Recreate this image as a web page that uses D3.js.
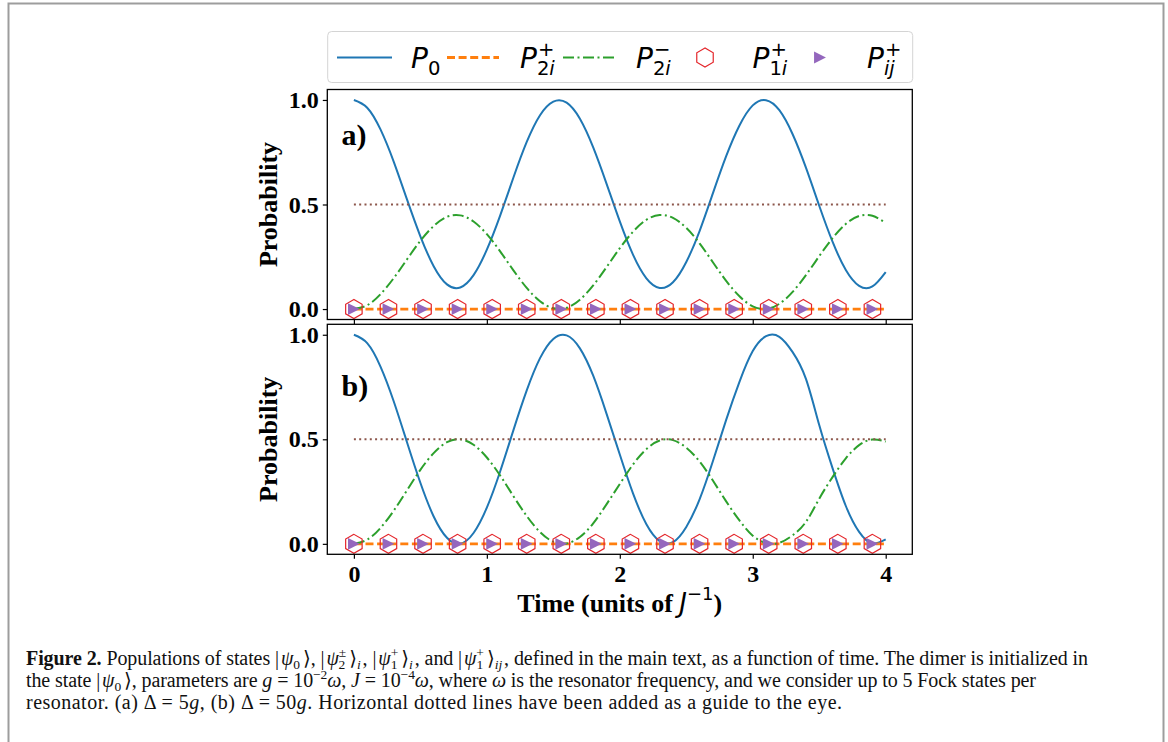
<!DOCTYPE html>
<html>
<head>
<meta charset="utf-8">
<script src="https://cdn.jsdelivr.net/npm/d3@7"></script>
<style>
  body { margin: 0; background: #fff; }
</style>
</head>
<body>
<div id="chart"></div>
<script>
// ---- data ----
// time grid, units of 1/J
var timeGrid = [0.0, 0.1, 0.2, 0.3, 0.4, 0.5, 0.6, 0.7, 0.8, 0.9,
                1.0, 1.1, 1.2, 1.3, 1.4, 1.5, 1.6, 1.7, 1.8, 1.9,
                2.0, 2.1, 2.2, 2.3, 2.4, 2.5, 2.6, 2.7, 2.8, 2.9,
                3.0, 3.1, 3.2, 3.3, 3.4, 3.5, 3.6, 3.7, 3.8, 3.9, 4.0];

// panel a) Delta = 5g
var p0A = [1.000, 0.963, 0.859, 0.704, 0.523, 0.348, 0.205, 0.118, 0.103, 0.162,
           0.284, 0.447, 0.629, 0.799, 0.927, 0.992, 0.987, 0.910, 0.773, 0.600,
           0.419, 0.259, 0.147, 0.101, 0.128, 0.225, 0.373, 0.553, 0.731, 0.878,
           0.974, 0.999, 0.951, 0.836, 0.676, 0.494, 0.322, 0.187, 0.111, 0.108, 0.177];
var p2MinusA = [0.000, 0.018, 0.071, 0.148, 0.238, 0.326, 0.397, 0.441, 0.448, 0.419,
                0.358, 0.276, 0.185, 0.101, 0.037, 0.004, 0.006, 0.045, 0.113, 0.200,
                0.291, 0.370, 0.427, 0.450, 0.436, 0.388, 0.314, 0.224, 0.135, 0.061,
                0.013, 0.000, 0.025, 0.082, 0.162, 0.253, 0.339, 0.407, 0.445, 0.446, 0.412];

// panel b) Delta = 50g
var p0B = [1.000, 0.960, 0.848, 0.681, 0.485, 0.292, 0.131, 0.029, 0.001, 0.052,
           0.173, 0.346, 0.544, 0.734, 0.888, 0.980, 0.997, 0.935, 0.804, 0.623,
           0.427, 0.240, 0.094, 0.013, 0.008, 0.081, 0.213, 0.395, 0.593, 0.775,
           0.922, 0.993, 0.990, 0.917, 0.789, 0.568, 0.362, 0.181, 0.057, 0.002, 0.021];
var p2MinusB = [0.000, 0.020, 0.076, 0.159, 0.257, 0.354, 0.434, 0.486, 0.500, 0.474,
                0.413, 0.327, 0.228, 0.133, 0.056, 0.010, 0.002, 0.033, 0.098, 0.189,
                0.286, 0.380, 0.453, 0.494, 0.496, 0.460, 0.394, 0.303, 0.203, 0.112,
                0.039, 0.004, 0.005, 0.041, 0.105, 0.216, 0.319, 0.409, 0.472, 0.499, 0.489];

// P2i+ sits on zero, and the dotted guide at one half
var flatTimes = [0, 4];
var p2PlusA = [0, 0];
var p2PlusB = [0, 0];
var guideA = [0.5, 0.5];
var guideB = [0.5, 0.5];

// marker series (P1i+ hexagons, Pij+ triangles)
var markerTimes = [0, 0.26, 0.52, 0.78, 1.04, 1.30, 1.56, 1.82,
                   2.08, 2.34, 2.60, 2.86, 3.12, 3.38, 3.64, 3.90];
var p1PlusA = [0, 0, 0, 0, 0, 0, 0, 0, 0, 0, 0, 0, 0, 0, 0, 0];
var pijPlusA = [0, 0, 0, 0, 0, 0, 0, 0, 0, 0, 0, 0, 0, 0, 0, 0];
var p1PlusB = [0, 0, 0, 0, 0, 0, 0, 0, 0, 0, 0, 0, 0, 0, 0, 0];
var pijPlusB = [0, 0, 0, 0, 0, 0, 0, 0, 0, 0, 0, 0, 0, 0, 0, 0];

var xTicks = [0, 1, 2, 3, 4];
var yTicks = [0, 0.5, 1.0];
var panelLabels = ["a)", "b)"];

// ---- layout ----
var W = 1168, H = 742;
var plotLeft = 327.3, plotRight = 912.3;
var panelTops = [89.5, 324.3], panelHeight = 230;
var tagBaselines = [55, 72];
var serif = "'Liberation Serif', 'Times New Roman', serif";
var sans = "'DejaVu Sans', sans-serif";

var colors = {p0: "#1f77b4", p2p: "#ff7f0e", p2m: "#2ca02c", hex: "#e4262b", tri: "#9467bd", guide: "#8c564b"};

var svg = d3.select("#chart").append("svg")
    .attr("width", W)
    .attr("height", H);

// outer frame of the figure box
svg.append("rect")
    .attr("x", 8.5).attr("y", 3.5)
    .attr("width", 1155).attr("height", 800)
    .attr("fill", "none").attr("stroke", "#9d9d9d").attr("stroke-width", 2);

var x = d3.scaleLinear().domain([-0.2, 4.2]).range([plotLeft, plotRight]);

// custom marker shapes
var hexagon = {
    draw: function(ctx, size) {
        var r = Math.sqrt(size / (1.5 * Math.sqrt(3)));
        for (var k = 0; k < 6; k++) {
            var a = Math.PI / 2 + k * Math.PI / 3;
            if (k) ctx.lineTo(r * Math.cos(a), -r * Math.sin(a));
            else ctx.moveTo(r * Math.cos(a), -r * Math.sin(a));
        }
        ctx.closePath();
    }
};
var triRight = {
    draw: function(ctx, size) {
        var r = Math.sqrt(size) / 2;
        ctx.moveTo(r, 0);
        ctx.lineTo(-r, -r);
        ctx.lineTo(-r, r);
        ctx.closePath();
    }
};
var hexPath = d3.symbol().type(hexagon).size(235)();
var triPath = d3.symbol().type(triRight).size(140)();

var panels = [
    {p0: p0A, p2m: p2MinusA, p2p: p2PlusA, p1: p1PlusA, pij: pijPlusA, guide: guideA},
    {p0: p0B, p2m: p2MinusB, p2p: p2PlusB, p1: p1PlusB, pij: pijPlusB, guide: guideB}
];

panels.forEach(function(p, k) {
    var top = panelTops[k];
    var y = d3.scaleLinear().domain([-0.05, 1.05]).range([top + panelHeight, top]);
    var g = svg.append("g");

    var line = d3.line()
        .x(function(d) { return x(d[0]); })
        .y(function(d) { return y(d[1]); })
        .curve(d3.curveNatural);
    var straight = d3.line()
        .x(function(d) { return x(d[0]); })
        .y(function(d) { return y(d[1]); });

    // P0
    g.append("path")
        .datum(d3.zip(timeGrid, p.p0))
        .attr("d", line)
        .attr("fill", "none").attr("stroke", colors.p0).attr("stroke-width", 2);

    // P2i+
    g.append("path")
        .datum(d3.zip(flatTimes, p.p2p))
        .attr("d", straight)
        .attr("fill", "none").attr("stroke", colors.p2p).attr("stroke-width", 2.8)
        .attr("stroke-dasharray", "8,3.6");

    // P2i-
    g.append("path")
        .datum(d3.zip(timeGrid, p.p2m))
        .attr("d", line)
        .attr("fill", "none").attr("stroke", colors.p2m).attr("stroke-width", 2)
        .attr("stroke-dasharray", "11,3.5,2,3.5");

    // P1i+ hexagons
    g.selectAll(".hex")
        .data(d3.zip(markerTimes, p.p1))
        .enter().append("path")
        .attr("class", "hex")
        .attr("d", hexPath)
        .attr("transform", function(d) { return "translate(" + x(d[0]) + "," + y(d[1]) + ")"; })
        .attr("fill", "none").attr("stroke", colors.hex).attr("stroke-width", 1.2);

    // Pij+ triangles
    g.selectAll(".tri")
        .data(d3.zip(markerTimes, p.pij))
        .enter().append("path")
        .attr("class", "tri")
        .attr("d", triPath)
        .attr("transform", function(d) { return "translate(" + x(d[0]) + "," + y(d[1]) + ")"; })
        .attr("fill", colors.tri);

    // dotted guide
    g.append("path")
        .datum(d3.zip(flatTimes, p.guide))
        .attr("d", straight)
        .attr("fill", "none").attr("stroke", colors.guide).attr("stroke-width", 2)
        .attr("stroke-dasharray", "2,3.3");

    // axes
    g.append("g")
        .attr("transform", "translate(" + plotLeft + ",0)")
        .call(d3.axisLeft(y).tickValues(yTicks).tickSize(4.5).tickPadding(4).tickFormat(d3.format(".1f")))
        .call(function(a) {
            a.select(".domain").remove();
            a.selectAll("line").attr("stroke-width", 1.2);
            a.selectAll("text").attr("font-family", serif).attr("font-weight", "bold")
                .attr("font-size", 24).attr("fill", "#000");
        });

    g.append("g")
        .attr("transform", "translate(0," + (top + panelHeight) + ")")
        .call(d3.axisBottom(x).tickValues(xTicks).tickSize(4.5).tickPadding(6)
            .tickFormat(k === 1 ? d3.format("d") : function() { return ""; }))
        .call(function(a) {
            a.select(".domain").remove();
            a.selectAll("line").attr("stroke-width", 1.2);
            a.selectAll("text").attr("font-family", serif).attr("font-weight", "bold")
                .attr("font-size", 24).attr("fill", "#000");
        });

    // frame
    g.append("rect")
        .attr("x", plotLeft).attr("y", top)
        .attr("width", plotRight - plotLeft).attr("height", panelHeight)
        .attr("fill", "none").attr("stroke", "#000").attr("stroke-width", 1.3);

    // y label
    g.append("text")
        .attr("transform", "translate(277," + (top + panelHeight / 2) + ") rotate(-90)")
        .attr("text-anchor", "middle")
        .attr("font-family", serif).attr("font-weight", "bold").attr("font-size", 26)
        .text("Probability");

    // panel tag
    g.append("text")
        .attr("x", 341.5).attr("y", top + tagBaselines[k])
        .attr("font-family", serif).attr("font-weight", "bold").attr("font-size", 30)
        .text(panelLabels[k]);
});

// x label
var xl = svg.append("text")
    .attr("x", (plotLeft + plotRight) / 2).attr("y", 612)
    .attr("text-anchor", "middle")
    .attr("font-family", serif).attr("font-weight", "bold").attr("font-size", 26);
xl.append("tspan").text("Time (units of ");
xl.append("tspan").attr("font-family", sans).attr("font-weight", "normal").attr("font-style", "italic").text("J");
xl.append("tspan").attr("font-family", sans).attr("font-weight", "normal").attr("font-size", 18).attr("dy", -12).text("\u22121");
xl.append("tspan").attr("dy", 12).text(")");

// ---- legend ----
var legendY = 57.5, legendBase = 68;
svg.append("rect")
    .attr("x", 327.7).attr("y", 31.5).attr("width", 585).attr("height", 51)
    .attr("rx", 4).attr("fill", "#fff").attr("stroke", "#d4d4d4").attr("stroke-width", 1);

svg.append("line").attr("x1", 337).attr("x2", 392).attr("y1", legendY).attr("y2", legendY)
    .attr("stroke", colors.p0).attr("stroke-width", 2.2);
svg.append("line").attr("x1", 447).attr("x2", 499).attr("y1", legendY).attr("y2", legendY)
    .attr("stroke", colors.p2p).attr("stroke-width", 2.8).attr("stroke-dasharray", "8,3.6");
svg.append("line").attr("x1", 563).attr("x2", 615).attr("y1", legendY).attr("y2", legendY)
    .attr("stroke", colors.p2m).attr("stroke-width", 2).attr("stroke-dasharray", "11,3.5,2,3.5");
svg.append("path").attr("d", hexPath).attr("transform", "translate(705," + legendY + ")")
    .attr("fill", "none").attr("stroke", colors.hex).attr("stroke-width", 1.2);
svg.append("path").attr("d", triPath).attr("transform", "translate(820," + legendY + ")")
    .attr("fill", colors.tri);

function mathLabel(x0, sup, sub) {
    var t = svg.append("text").attr("x", x0).attr("y", legendBase)
        .attr("font-family", sans).attr("font-size", 28).attr("font-style", "italic").text("P");
    var w = t.node().getComputedTextLength() + 1;
    if (sup) {
        svg.append("text").attr("x", x0 + w).attr("y", legendBase - 12.5)
            .attr("font-family", sans).attr("font-size", 19.6).text(sup);
    }
    var s = svg.append("text").attr("x", x0 + w - 1).attr("y", legendBase + 7)
        .attr("font-family", sans).attr("font-size", 19.6);
    sub.forEach(function(part) {
        s.append("tspan").attr("font-style", part[1] ? "italic" : "normal").text(part[0]);
    });
}
mathLabel(411, null, [["0", false]]);
mathLabel(520, "+", [["2", false], ["i", true]]);
mathLabel(636, "\u2212", [["2", false], ["i", true]]);
mathLabel(752.5, "+", [["1", false], ["i", true]]);
mathLabel(867, "+", [["ij", true]]);

// ---- caption ----
var capSize = 20, sm = 13.5;
var captionEnds = [1088, 1036, 842];
function captionLine(yPos, parts, endX) {
    var t = svg.append("text").attr("x", 26).attr("y", yPos)
        .attr("font-family", "'Liberation Serif', 'DejaVu Serif', serif").attr("font-size", capSize).attr("fill", "#111");
    parts.forEach(function(p) {
        var ts = t.append("tspan").text(p.t);
        if (p.b) ts.attr("font-weight", "bold");
        if (p.i) ts.attr("font-style", "italic");
        if (p.s) ts.attr("font-size", p.s);
        if (p.dy) ts.attr("dy", p.dy);
        if (p.dx) ts.attr("dx", p.dx);
    });
    // stretch the line to the measured width of the printed caption
    t.attr("textLength", endX - 26).attr("lengthAdjust", "spacing");
}
captionLine(665, [
    {t: "Figure 2.", b: 1}, {t: " Populations of states |"}, {t: "\u03c8", i: 1, dx: 2}, {t: "0", s: sm, dy: 4},
    {t: "\u27e9, |", dy: -4, dx: 3}, {t: "\u03c8", i: 1, dx: 2}, {t: "\u00b1", s: sm, dy: -8}, {t: "2", s: sm, dy: 12, dx: -7.5},
    {t: "\u27e9", dy: -4, dx: 4}, {t: "i", i: 1, s: sm, dy: 4}, {t: ", |", dy: -4, dx: 2},
    {t: "\u03c8", i: 1, dx: 2}, {t: "+", s: sm, dy: -8}, {t: "1", s: sm, dy: 12, dx: -7.5},
    {t: "\u27e9", dy: -4, dx: 4}, {t: "i", i: 1, s: sm, dy: 4}, {t: ", and |", dy: -4, dx: 2},
    {t: "\u03c8", i: 1, dx: 2}, {t: "+", s: sm, dy: -8}, {t: "1", s: sm, dy: 12, dx: -7.5},
    {t: "\u27e9", dy: -4, dx: 4}, {t: "ij", i: 1, s: sm, dy: 4},
    {t: ", defined in the main text, as a function of time. The dimer is initialized in", dy: -4, dx: 2}
], captionEnds[0]);
captionLine(687, [
    {t: "the state |"}, {t: "\u03c8", i: 1, dx: 2}, {t: "0", s: sm, dy: 4}, {t: "\u27e9, parameters are ", dy: -4, dx: 3},
    {t: "g", i: 1}, {t: " = 10"}, {t: "\u22122", s: sm, dy: -8}, {t: "\u03c9", i: 1, dy: 8}, {t: ", "},
    {t: "J", i: 1}, {t: " = 10"}, {t: "\u22124", s: sm, dy: -8}, {t: "\u03c9", i: 1, dy: 8},
    {t: ", where "}, {t: "\u03c9", i: 1},
    {t: " is the resonator frequency, and we consider up to 5 Fock states per"}
], captionEnds[1]);
captionLine(709, [
    {t: "resonator. (a) \u0394 = 5"}, {t: "g", i: 1}, {t: ", (b) \u0394 = 50"}, {t: "g", i: 1},
    {t: ". Horizontal dotted lines have been added as a guide to the eye."}
], captionEnds[2]);
</script>
</body>
</html>
